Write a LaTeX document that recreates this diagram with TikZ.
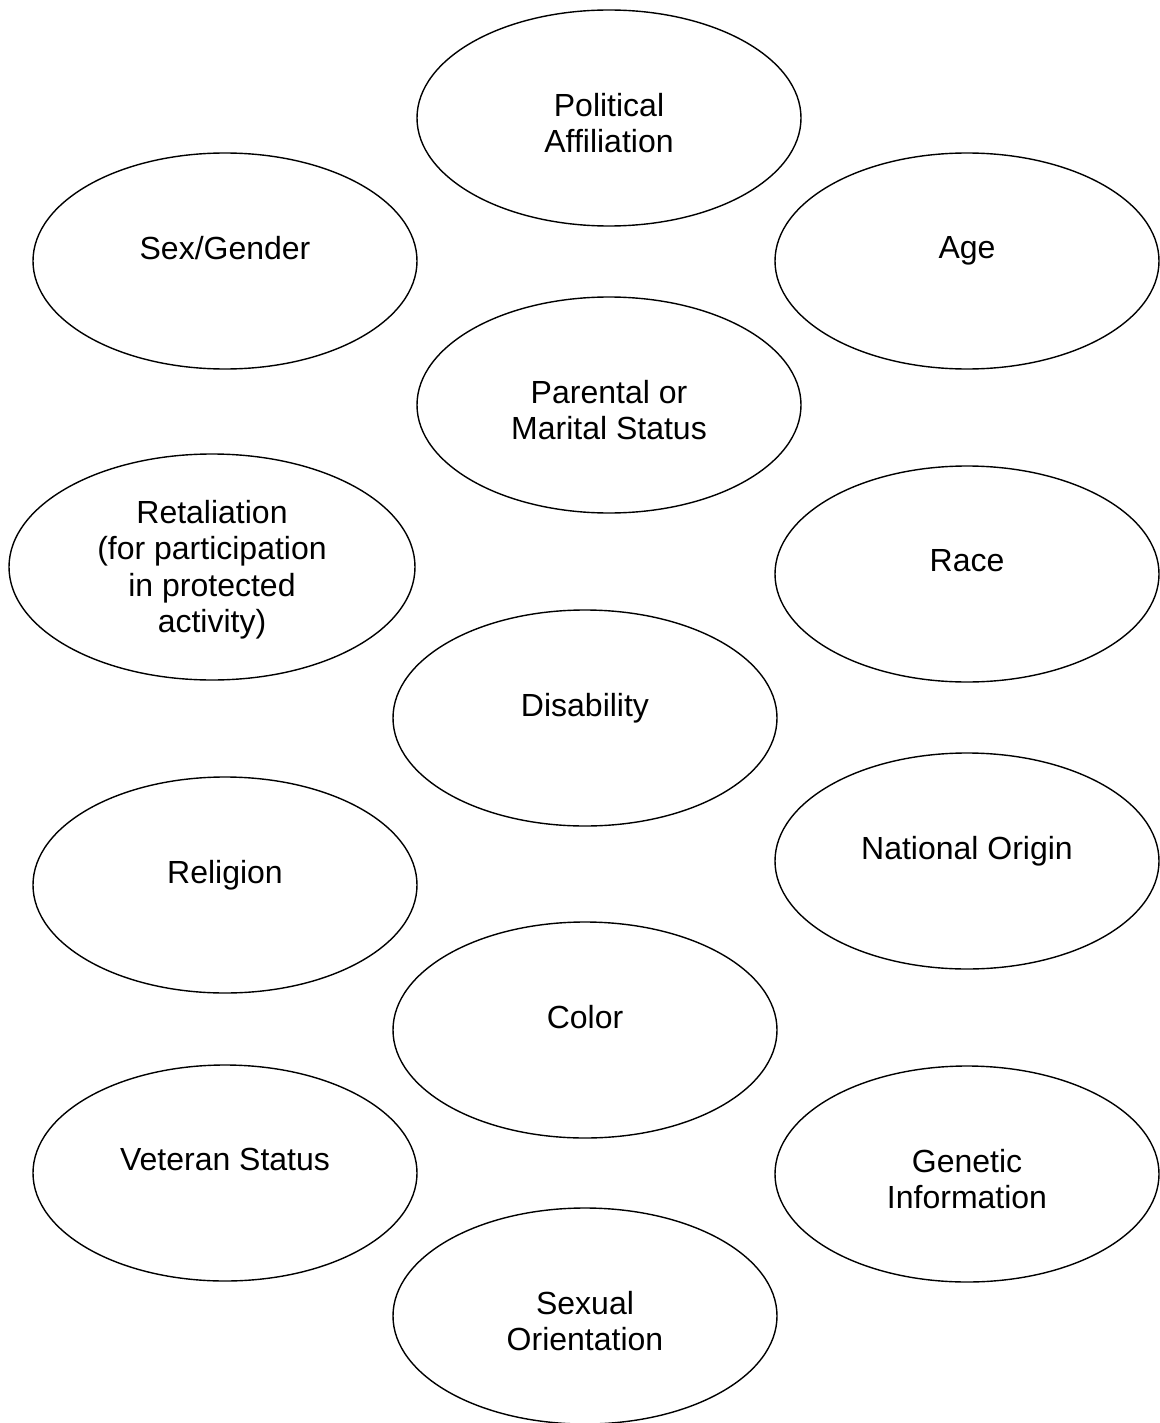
\documentclass[tikz,border=0pt]{standalone}
\usepackage{fontspec}
\setmainfont{Liberation Sans}
\usepackage{tikz}
\usetikzlibrary{shapes.geometric}

\begin{document}
\begin{tikzpicture}[x=1pt,y=-1pt,
    blob/.style={draw, ellipse, line width=1.4pt, inner sep=0pt,
      minimum width=384pt, minimum height=216pt},
    lbl/.style={anchor=north, inner sep=0pt, align=center,
      font=\fontsize{32pt}{36.5pt}\selectfont}]
      \useasboundingbox (0,0) rectangle (1159,1423);
      \node[blob] (pol) at (609,118) {};
      \node[blob] (sex) at (225,261) {};
      \node[blob] (age) at (967,261) {};
      \node[blob] (par) at (609,405) {};
      \node[blob, minimum width=406pt, minimum height=226pt] (ret) at (212,567) {};
      \node[blob] (race) at (967,574) {};
      \node[blob] (dis) at (585,718) {};
      \node[blob] (rel) at (225,885) {};
      \node[blob] (nat) at (967,861) {};
      \node[blob] (col) at (585,1030) {};
      \node[blob] (vet) at (225,1173) {};
      \node[blob] (gen) at (967,1174) {};
      \node[blob] (sxo) at (585,1316) {};
      \node[lbl] (pol-t) at ([yshift=25pt]pol.center) {Political\\Affiliation};
      \node[lbl] (sex-t) at ([yshift=25pt]sex.center) {Sex/Gender};
      \node[lbl] (age-t) at ([yshift=25pt]age.center) {Age};
      \node[lbl] (par-t) at ([yshift=25pt]par.center) {Parental or\\Marital Status};
      \node[lbl] (ret-t) at ([yshift=67pt]ret.center) {Retaliation\\(for participation\\in protected\\activity)};
      \node[lbl] (race-t) at ([yshift=25pt]race.center) {Race};
      \node[lbl] (dis-t) at ([yshift=25pt]dis.center) {Disability};
      \node[lbl] (rel-t) at ([yshift=25pt]rel.center) {Religion};
      \node[lbl] (nat-t) at ([yshift=25pt]nat.center) {National Origin};
      \node[lbl] (col-t) at ([yshift=25pt]col.center) {Color};
      \node[lbl] (vet-t) at ([yshift=25pt]vet.center) {Veteran Status};
      \node[lbl] (gen-t) at ([yshift=25pt]gen.center) {Genetic\\Information};
      \node[lbl] (sxo-t) at ([yshift=25pt]sxo.center) {Sexual\\Orientation};
  \end{tikzpicture}
\end{document}
